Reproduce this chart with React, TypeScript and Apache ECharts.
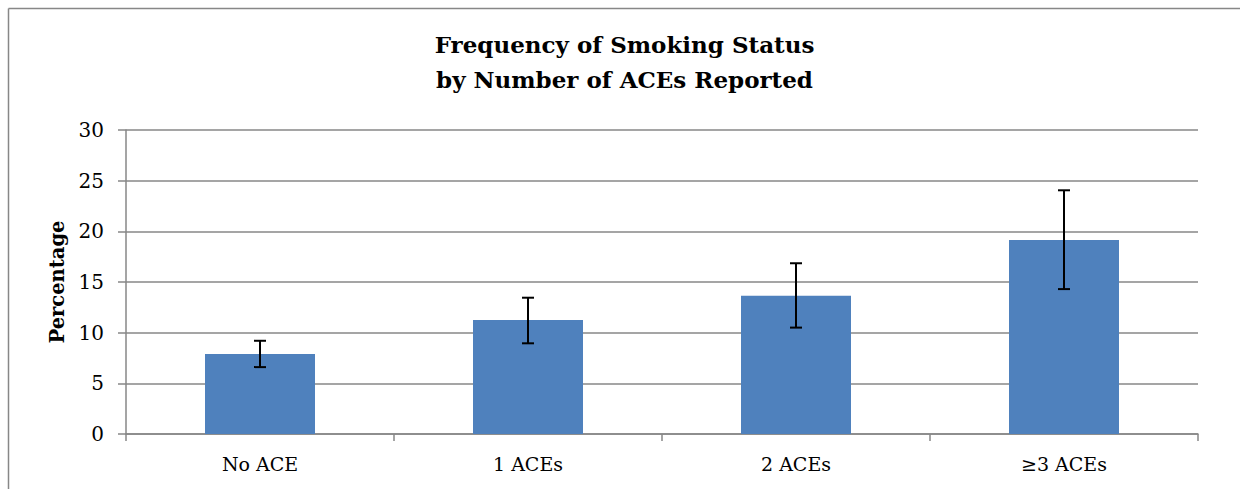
import React, { useEffect, useRef } from "react";
import * as echarts from "echarts";

const categories = ["No ACE", "1 ACEs", "2 ACEs", "≥3 ACEs"];
const percentages = [7.9, 11.25, 13.65, 19.15];
const errLow = [6.6, 8.95, 10.5, 14.3];
const errHigh = [9.2, 13.45, 16.85, 24.05];
const yTicks = { min: 0, max: 30, interval: 5 };

const FONT = "'DejaVu Serif', 'Liberation Serif', serif";
const GRAY = "#878787";

export default function App() {
  const ref = useRef<HTMLDivElement>(null);
  useEffect(() => {
    if (!ref.current) return;
    const chart = echarts.init(ref.current, null, { renderer: "svg" });
    const errData = categories.map((_, i) => [i, errLow[i], errHigh[i]]);
    chart.setOption({
      animation: false,
      backgroundColor: "#fff",
      title: {
        text: "Frequency of Smoking Status\nby Number of ACEs Reported",
        left: "center",
        top: 22,
        itemGap: 0,
        textStyle: {
          fontFamily: FONT,
          fontWeight: "bold",
          fontSize: 23,
          lineHeight: 35,
          color: "#000",
        },
      },
      graphic: [
        { type: "line", shape: { x1: 8.5, y1: 8.5, x2: 1240, y2: 8.5 }, style: { stroke: GRAY, lineWidth: 1.5 } },
        { type: "line", shape: { x1: 8.5, y1: 8.5, x2: 8.5, y2: 489 }, style: { stroke: GRAY, lineWidth: 1.5 } },
      ],
      grid: { left: 126, right: 51, top: 130, bottom: 55, containLabel: false },
      xAxis: {
        type: "category",
        data: categories,
        axisLine: { show: true, lineStyle: { color: GRAY, width: 1.5 } },
        axisTick: { show: true, alignWithLabel: false, length: 7, lineStyle: { color: GRAY, width: 1.5 } },
        axisLabel: { fontFamily: FONT, fontSize: 19, color: "#000", margin: 20 },
        splitLine: { show: false },
      },
      yAxis: {
        type: "value",
        min: yTicks.min,
        max: yTicks.max,
        interval: yTicks.interval,
        name: "Percentage",
        nameLocation: "middle",
        nameGap: 56,
        nameTextStyle: { fontFamily: FONT, fontWeight: "bold", fontSize: 19.5, color: "#000" },
        axisLine: { show: true, lineStyle: { color: GRAY, width: 1.5 } },
        axisTick: { show: true, length: 8, lineStyle: { color: GRAY, width: 1.5 } },
        axisLabel: { fontFamily: FONT, fontSize: 20, color: "#000", margin: 22 },
        splitLine: { show: true, lineStyle: { color: GRAY, width: 1.5 } },
      },
      series: [
        {
          type: "bar",
          data: percentages,
          barWidth: 110,
          itemStyle: { color: "#4F81BD" },
          z: 2,
        },
        {
          type: "custom",
          data: errData,
          z: 5,
          renderItem: (params: any, api: any) => {
            const x = api.value(0);
            const lo = api.coord([x, api.value(1)]);
            const hi = api.coord([x, api.value(2)]);
            const cap = 6;
            const style = { stroke: "#000", lineWidth: 2 };
            return {
              type: "group",
              children: [
                { type: "line", shape: { x1: lo[0], y1: lo[1], x2: hi[0], y2: hi[1] }, style },
                { type: "line", shape: { x1: hi[0] - cap, y1: hi[1], x2: hi[0] + cap, y2: hi[1] }, style },
                { type: "line", shape: { x1: lo[0] - cap, y1: lo[1], x2: lo[0] + cap, y2: lo[1] }, style },
              ],
            };
          },
        },
      ],
    });
    return () => chart.dispose();
  }, []);
  return (
    <div
      ref={ref}
      style={{ position: "absolute", left: 0, top: 0, width: 1249, height: 489 }}
    />
  );
}
